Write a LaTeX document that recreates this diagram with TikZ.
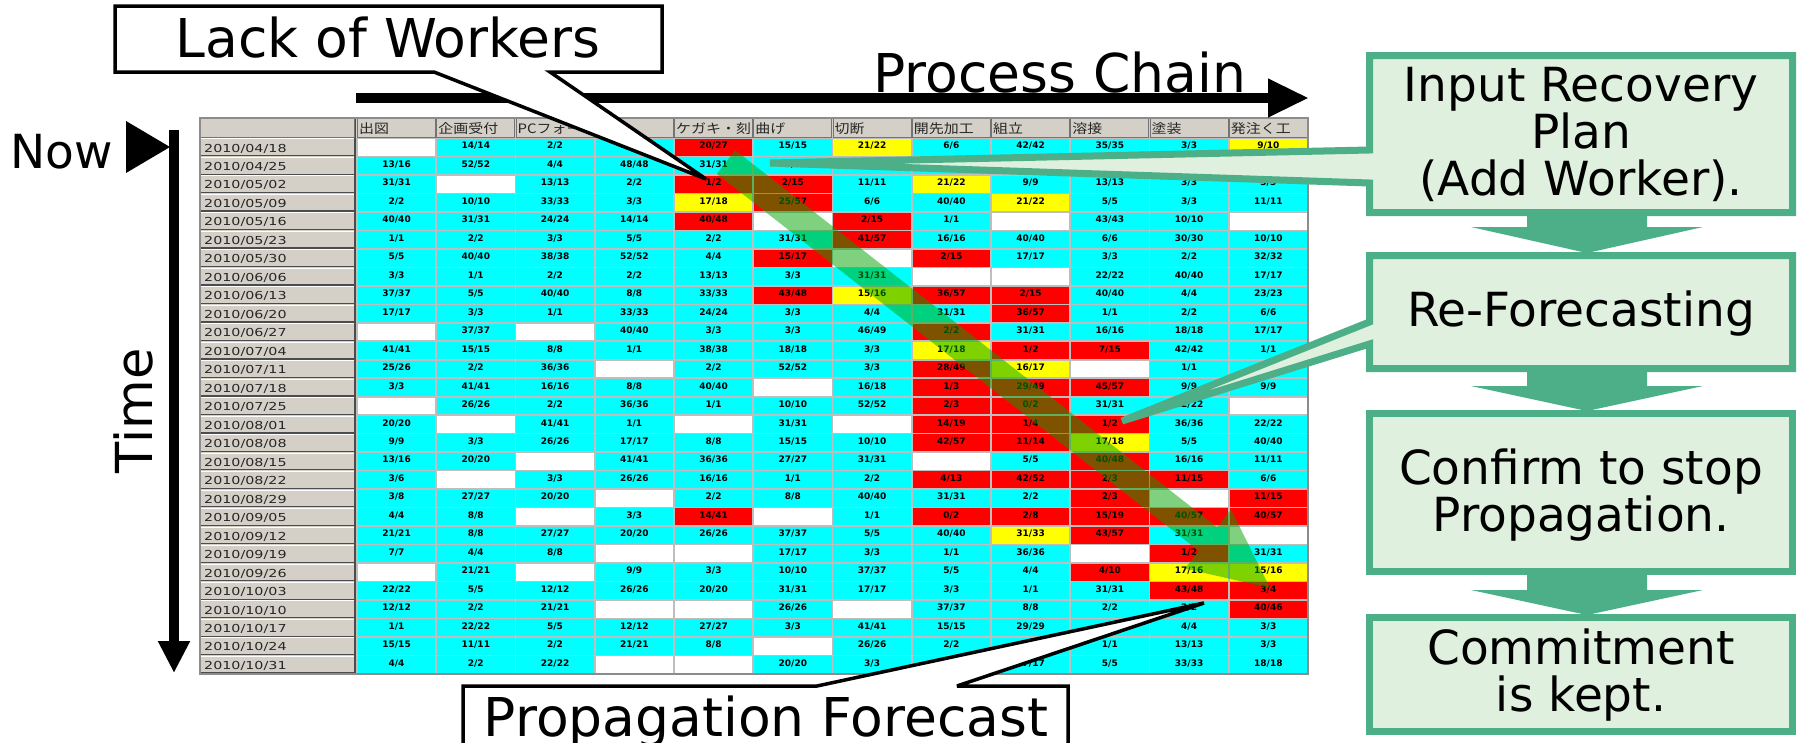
\documentclass[tikz,border=0pt]{standalone}
\usepackage{fontspec}
\setmainfont{DejaVu Sans}
\newfontfamily\cellfont{DejaVu Sans}
\newfontfamily\datefont[FakeStretch=1.3]{DejaVu Sans}
\newfontfamily\jpfont[FakeStretch=1.15]{Noto Sans CJK JP}
\usetikzlibrary{arrows.meta}

% cell colours of the schedule sheet
\definecolor{tc}{RGB}{0,255,255}
\definecolor{tr}{RGB}{255,0,0}
\definecolor{ty}{RGB}{255,255,0}
\definecolor{tw}{RGB}{255,255,255}
\definecolor{uigrey}{RGB}{212,208,200}
\definecolor{gridgrey}{RGB}{190,190,190}
% flow chart colours
\definecolor{gborder}{RGB}{76,175,136}
\definecolor{gfill}{RGB}{224,240,222}
\definecolor{bandgreen}{RGB}{0,165,0}

\tikzset{
  celltext/.style={anchor=base, inner sep=0pt, font=\fontsize{9}{10}\cellfont\bfseries},
  datetext/.style={anchor=base west, inner sep=0pt, font=\fontsize{11}{11}\datefont, text=black!85},
  headtext/.style={anchor=base west, inner sep=0pt, font=\fontsize{13}{14}\jpfont, text=black!85},
  bigtext/.style={inner sep=0pt, font=\fontsize{53.5}{54}\selectfont},
  flowtext/.style={align=center, inner sep=0pt, font=\fontsize{47}{47}\selectfont},
  blackcallout/.style={draw=black, fill=white, line width=3.5pt, line join=miter, miter limit=4},
  greencallout/.style={draw=gborder, fill=gfill, line width=7pt, line join=miter, miter limit=3},
  thickarrow/.style={line width=10pt},
}

% one table row: row number, date, twelve cells (colour letter + text)
\def\drawcell#1#2\relax{%
  \pgfmathsetmacro\cellleft{357+(\k-1)*79.25}%
  \fill[t#1] (\cellleft,\rowtop) rectangle ++(79.25,18.48);%
  \node[celltext] (cell-\currow-\k) at (\cellleft+39.6,\rowtop+10.8) {#2};%
}
\newcommand\trow[3]{%
  \def\currow{#1}%
  \pgfmathsetmacro\rowtop{138+(#1-1)*18.48}%
  \node[datetext] (date-#1) at (204,\rowtop+14) {#2};%
  \foreach \e [count=\k] in {#3} {\expandafter\drawcell\e\relax}%
}
% down arrow between two flow boxes
\newcommand\flowarrow[3]{%
  \fill[gborder] (1527,#1) -- (1647,#1) -- (1647,#2) -- (1703,#2) -- (1587,#3)
    -- (1471,#2) -- (1527,#2) -- cycle;%
}

\begin{document}
\begin{tikzpicture}[x=1pt,y=-1pt]
\useasboundingbox (0,0) rectangle (1800,742);
\clip (0,0) rectangle (1800,742);
\fill[white] (0,0) rectangle (1800,742);

% ---------- schedule sheet ----------
\fill[uigrey] (200,118) rectangle (1308,674);

\trow{1}{2010/04/18}{w,c14/14,c2/2,c14/14,r20/27,c15/15,y21/22,c6/6,c42/42,c35/35,c3/3,y9/10}
\trow{2}{2010/04/25}{c13/16,c52/52,c4/4,c48/48,c31/31,c3/3,c,c,c,c,c,c}
\trow{3}{2010/05/02}{c31/31,w,c13/13,c2/2,r1/2,r2/15,c11/11,y21/22,c9/9,c13/13,c3/3,c3/3}
\trow{4}{2010/05/09}{c2/2,c10/10,c33/33,c3/3,y17/18,r25/57,c6/6,c40/40,y21/22,c5/5,c3/3,c11/11}
\trow{5}{2010/05/16}{c40/40,c31/31,c24/24,c14/14,r40/48,w,r2/15,c1/1,w,c43/43,c10/10,w}
\trow{6}{2010/05/23}{c1/1,c2/2,c3/3,c5/5,c2/2,c31/31,r41/57,c16/16,c40/40,c6/6,c30/30,c10/10}
\trow{7}{2010/05/30}{c5/5,c40/40,c38/38,c52/52,c4/4,r15/17,w,r2/15,c17/17,c3/3,c2/2,c32/32}
\trow{8}{2010/06/06}{c3/3,c1/1,c2/2,c2/2,c13/13,c3/3,c31/31,w,w,c22/22,c40/40,c17/17}
\trow{9}{2010/06/13}{c37/37,c5/5,c40/40,c8/8,c33/33,r43/48,y15/16,r36/57,r2/15,c40/40,c4/4,c23/23}
\trow{10}{2010/06/20}{c17/17,c3/3,c1/1,c33/33,c24/24,c3/3,c4/4,c31/31,r36/57,c1/1,c2/2,c6/6}
\trow{11}{2010/06/27}{w,c37/37,w,c40/40,c3/3,c3/3,c46/49,r2/2,c31/31,c16/16,c18/18,c17/17}
\trow{12}{2010/07/04}{c41/41,c15/15,c8/8,c1/1,c38/38,c18/18,c3/3,y17/18,r1/2,r7/15,c42/42,c1/1}
\trow{13}{2010/07/11}{c25/26,c2/2,c36/36,w,c2/2,c52/52,c3/3,r28/49,y16/17,w,c1/1,c}
\trow{14}{2010/07/18}{c3/3,c41/41,c16/16,c8/8,c40/40,w,c16/18,r1/3,r29/49,r45/57,c9/9,c9/9}
\trow{15}{2010/07/25}{w,c26/26,c2/2,c36/36,c1/1,c10/10,c52/52,r2/3,r0/2,c31/31,c22/22,w}
\trow{16}{2010/08/01}{c20/20,w,c41/41,c1/1,w,c31/31,w,r14/19,r1/4,r1/2,c36/36,c22/22}
\trow{17}{2010/08/08}{c9/9,c3/3,c26/26,c17/17,c8/8,c15/15,c10/10,r42/57,r11/14,y17/18,c5/5,c40/40}
\trow{18}{2010/08/15}{c13/16,c20/20,w,c41/41,c36/36,c27/27,c31/31,w,c5/5,r40/48,c16/16,c11/11}
\trow{19}{2010/08/22}{c3/6,w,c3/3,c26/26,c16/16,c1/1,c2/2,r4/13,r42/52,r2/3,r11/15,c6/6}
\trow{20}{2010/08/29}{c3/8,c27/27,c20/20,w,c2/2,c8/8,c40/40,c31/31,c2/2,r2/3,w,r11/15}
\trow{21}{2010/09/05}{c4/4,c8/8,w,c3/3,r14/41,w,c1/1,r0/2,r2/8,r15/19,r40/57,r40/57}
\trow{22}{2010/09/12}{c21/21,c8/8,c27/27,c20/20,c26/26,c37/37,c5/5,c40/40,y31/33,r43/57,c31/31,w}
\trow{23}{2010/09/19}{c7/7,c4/4,c8/8,w,w,c17/17,c3/3,c1/1,c36/36,w,r1/2,c31/31}
\trow{24}{2010/09/26}{w,c21/21,w,c9/9,c3/3,c10/10,c37/37,c5/5,c4/4,r4/10,y17/16,y15/16}
\trow{25}{2010/10/03}{c22/22,c5/5,c12/12,c26/26,c20/20,c31/31,c17/17,c3/3,c1/1,c31/31,r43/48,r3/4}
\trow{26}{2010/10/10}{c12/12,c2/2,c21/21,w,w,c26/26,w,c37/37,c8/8,c2/2,c2/2,r40/46}
\trow{27}{2010/10/17}{c1/1,c22/22,c5/5,c12/12,c27/27,c3/3,c41/41,c15/15,c29/29,c,c4/4,c3/3}
\trow{28}{2010/10/24}{c15/15,c11/11,c2/2,c21/21,c8/8,w,c26/26,c2/2,c,c1/1,c13/13,c3/3}
\trow{29}{2010/10/31}{c4/4,c2/2,c22/22,w,w,c20/20,c3/3,c,c17/17,c5/5,c33/33,c18/18}

% cell grid
\foreach \k in {0,...,12}
  \draw[gridgrey, line width=1.6pt] (357+\k*79.25,138) -- (357+\k*79.25,674);
\foreach \r in {0,...,29}
  \draw[gridgrey, line width=1.6pt] (357,138+\r*18.48) -- (1308,138+\r*18.48);

% date column bevels
\foreach \r in {1,...,29} {
  \draw[white, line width=1pt] (201,138+\r*18.48-17.5) -- (354,138+\r*18.48-17.5);
  \draw[black!70, line width=1.3pt] (201,138+\r*18.48-0.8) -- (355,138+\r*18.48-0.8);
}
\draw[black!70, line width=1.3pt] (355,118) -- (355,674);

% header row
\foreach \h [count=\k] in {出図,企画受付,PCフォー,{},ケガキ・刻,曲げ,切断,開先加工,組立,溶接,塗装,発注く工} {
  \pgfmathsetmacro\hl{357+(\k-1)*79.25}
  \draw[black!55, line width=1.2pt, fill=uigrey] (\hl+0.6,118.6) rectangle (\hl+78.6,137.4);
  \begin{scope}
    \clip (\hl+1,119) rectangle (\hl+78,137);
    \node[headtext] (head-\k) at (\hl+2,133.5) {\h};
  \end{scope}
}
\draw[black!55, line width=1.2pt] (200.6,118.6) rectangle (354.6,137.4);
\draw[black!45, line width=1.6pt] (200,118) rectangle (1308,674);

% ---------- propagation band ----------
\fill[bandgreen, opacity=0.5] (735.2,150.2) -- (1217.2,527.2) -- (1231,509.5)
  -- (1270,588) -- (1185,568.5) -- (1198.8,550.8) -- (716.8,173.8) -- cycle;

% ---------- axes ----------
\coordinate (chainStart) at (356,98);
\coordinate (chainEnd) at (1309,98);
\draw[thickarrow, -{Triangle[length=41pt,width=36pt]}] (chainStart) -- (chainEnd);
\node[bigtext, anchor=base] (chainlabel) at (1060,92) {Process Chain};

\coordinate (timeStart) at (174,130);
\coordinate (timeEnd) at (174,673);
\draw[thickarrow, -{Triangle[length=32pt,width=30pt]}] (timeStart) -- (timeEnd);
\node[bigtext, rotate=90, font=\fontsize{51}{51}\selectfont] (timelabel) at (133,411) {Time};

\node[bigtext, anchor=base, font=\fontsize{47}{47}\selectfont] (nowlabel) at (62,168) {Now};
\fill (126,121) -- (170,147) -- (126,173) -- cycle;

% ---------- black callouts ----------
\coordinate (lackTip) at (706,179);
\draw[blackcallout] (115,6) -- (662,6) -- (662,72) -- (550,72) -- (lackTip)
  -- (434,72) -- (115,72) -- cycle;
\node[bigtext, anchor=base] (lacklabel) at (388,57) {Lack of Workers};

\coordinate (propTip) at (1204,603);
\draw[blackcallout] (463,760) -- (463,686) -- (817,686) -- (propTip)
  -- (957,686) -- (1068,686) -- (1068,760) -- cycle;
\node[bigtext, anchor=base] (proplabel) at (766,736) {Propagation Forecast};

% ---------- recovery flow ----------
\coordinate (planTip) at (770,163);
\draw[greencallout] (1369.5,55.5) -- (1792.5,55.5) -- (1792.5,212.5) -- (1369.5,212.5)
  -- (1369.5,183) -- (planTip) -- (1369.5,150) -- cycle;
\node[flowtext] (plan) at (1581,134) {Input Recovery\\Plan\\(Add Worker).};

\coordinate (refTip) at (1122,421);
\draw[greencallout] (1369.5,255.5) -- (1792.5,255.5) -- (1792.5,368.5) -- (1369.5,368.5)
  -- (1369.5,344) -- (refTip) -- (1369.5,322) -- cycle;
\node[flowtext] (reforecast) at (1581,314) {Re-Forecasting};

\draw[greencallout] (1369.5,413.5) rectangle (1792.5,571.5);
\node[flowtext] (confirm) at (1581,495) {Confirm to stop\\Propagation.};

\draw[greencallout] (1369.5,617.5) rectangle (1792.5,731.5);
\node[flowtext] (commit) at (1581,675) {Commitment\\is kept.};

\flowarrow{213}{227}{253}
\flowarrow{369}{386}{411}
\flowarrow{572}{590}{615}
\end{tikzpicture}
\end{document}
